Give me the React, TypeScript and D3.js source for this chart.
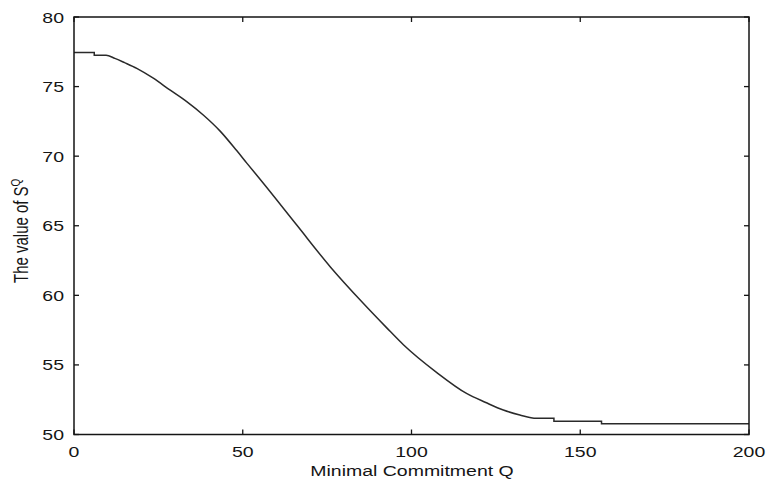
import React from "react";
import * as d3 from "d3";

const qValues = [0, 6, 6, 9.5, 12.1, 15, 18.6, 23.5, 28.4, 33.4, 38.3, 43.3, 48.2, 51.2, 56.1, 66, 75.9, 85.7, 92.6, 97.6, 107.5, 116.3, 122, 127.2, 132.1, 137, 142.2, 142.2, 156.3, 156.3, 200];
const sValues = [77.45, 77.45, 77.25, 77.25, 77.03, 76.72, 76.31, 75.6, 74.76, 73.92, 72.96, 71.8, 70.4, 69.5, 68.05, 65.05, 62.06, 59.43, 57.68, 56.45, 54.45, 52.95, 52.3, 51.76, 51.4, 51.16, 51.16, 50.95, 50.95, 50.78, 50.78];
const xTicks = [0, 50, 100, 150, 200];
const yTicks = [50, 55, 60, 65, 70, 75, 80];
const xLabel = "Minimal Commitment Q";
const yLabel = "The value of S";
const yLabelSup = "Q";

const W = 766, H = 481;
const L = 74, R = 749, T = 17, B = 434.5;
const SX = 1.3;
const FONT = "'Liberation Sans', Arial, Helvetica, sans-serif";

export default function App() {
  const x = d3.scaleLinear().domain([0, 200]).range([L, R]);
  const y = d3.scaleLinear().domain([50, 80]).range([B, T]);
  const pts: [number, number][] = qValues.map((q, i) => [q, sValues[i]]);
  // split into runs of strictly increasing Q; vertical jumps joined straight
  const runs: [number, number][][] = [];
  pts.forEach((p, i) => {
    if (i === 0 || p[0] <= pts[i - 1][0]) runs.push([p]);
    else runs[runs.length - 1].push(p);
  });
  const line = d3.line<[number, number]>().x(d => x(d[0])).y(d => y(d[1])).curve(d3.curveMonotoneX);
  const pathD = runs
    .map((r, i) => {
      const s = line(r) || "";
      return i === 0 ? s : "L" + s.slice(1);
    })
    .join("");
  const tl = 5;
  const ink = "#151515";
  return (
    <svg width={W} height={H} style={{ position: "absolute", left: 0, top: 0, background: "#fff" }}>
      <rect x={0} y={0} width={W} height={H} fill="#fff" />
      <path d={pathD} fill="none" stroke="#2a2a2a" strokeWidth={1.5} />
      <rect x={L} y={T} width={R - L} height={B - T} fill="none" stroke={ink} strokeWidth={1.5} />
      {xTicks.map(t => (
        <g key={"x" + t}>
          <line x1={x(t)} x2={x(t)} y1={B} y2={B - tl} stroke={ink} strokeWidth={1.3} />
          <line x1={x(t)} x2={x(t)} y1={T} y2={T + tl} stroke={ink} strokeWidth={1.3} />
          <text transform={`translate(${x(t)},457) scale(${SX},1)`} textAnchor="middle" fontFamily={FONT} fontSize={15} fill={ink}>{t}</text>
        </g>
      ))}
      {yTicks.map(t => (
        <g key={"y" + t}>
          <line x1={L} x2={L + tl} y1={y(t)} y2={y(t)} stroke={ink} strokeWidth={1.3} />
          <line x1={R} x2={R - tl} y1={y(t)} y2={y(t)} stroke={ink} strokeWidth={1.3} />
          <text transform={`translate(64,${y(t) + 5.5}) scale(${SX},1)`} textAnchor="end" fontFamily={FONT} fontSize={15} fill={ink}>{t}</text>
        </g>
      ))}
      <text transform={`translate(412,476) scale(${SX},1)`} textAnchor="middle" fontFamily={FONT} fontSize={15} fill={ink}>{xLabel}</text>
      <text transform={`translate(27.5,283) scale(${SX},1) rotate(-90)`} textAnchor="start" fontFamily={FONT} fontSize={15} fill={ink}>
        {yLabel}
        <tspan fontSize={10} dy={-6}>{yLabelSup}</tspan>
      </text>
    </svg>
  );
}
